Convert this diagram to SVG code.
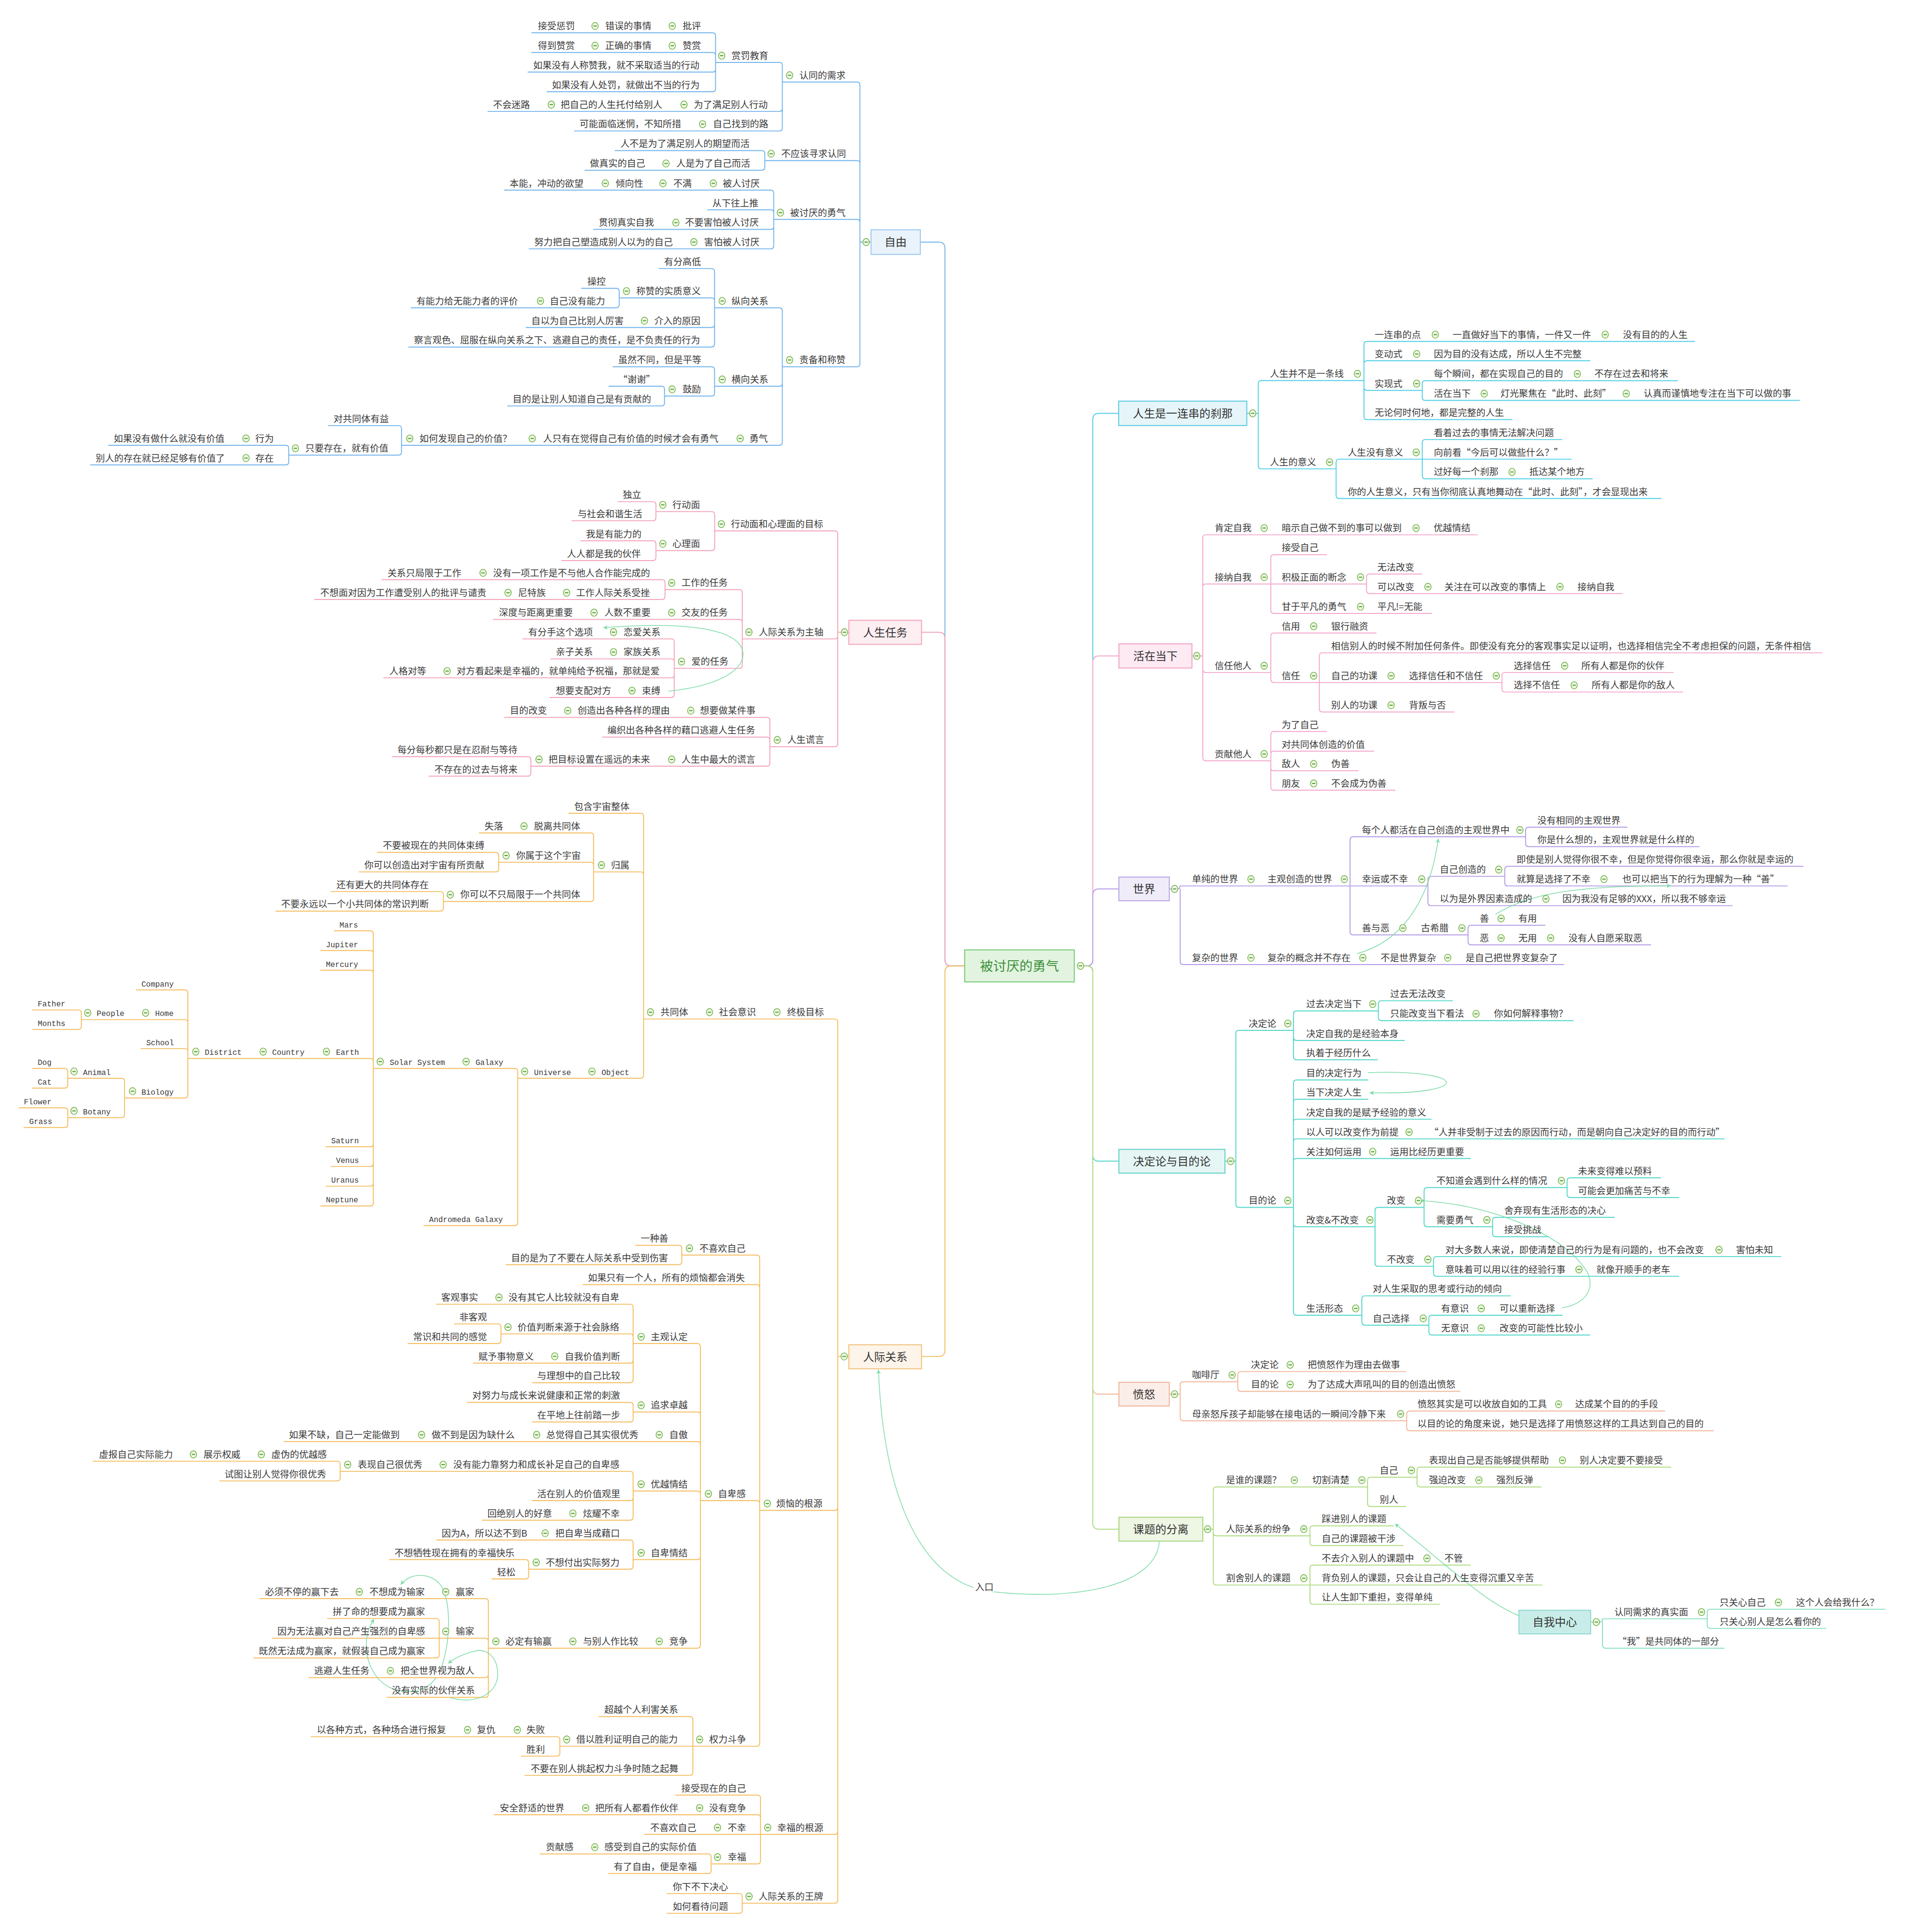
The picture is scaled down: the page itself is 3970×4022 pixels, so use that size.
<svg xmlns="http://www.w3.org/2000/svg" xmlns:xlink="http://www.w3.org/1999/xlink" width="3970" height="4022" viewBox="0 0 3970 4022">
<style>
text{font-family:"Noto Sans CJK SC","Noto Sans",sans-serif;font-size:7.5px;fill:#3a3a3a}
.e{font-family:"Liberation Mono",monospace;font-size:6.24px}
.t{font-size:9px;text-anchor:middle;fill:#333}
.ct{font-size:10.7px;text-anchor:middle;fill:#3d8f3d}
.b{stroke:#72b4ec}.p{stroke:#f4a3b8}.o{stroke:#f5bd5e}.c{stroke:#4fcfe6}.k{stroke:#f4a6cc}.v{stroke:#b39ae6}.g{stroke:#4fd6c8}.s{stroke:#f2b596}.l{stroke:#addb80}.z{stroke:#86dec6}
.rel{stroke:#7bdba6;stroke-width:.6}
</style>
<defs>
<g id="m"><ellipse rx="2.6" ry="2.9" fill="#eef8e6" stroke="#6aac3a" stroke-width=".55"/><path d="M-1.4,0H1.4" stroke="#4a9a22" stroke-width=".75"/></g>
<marker id="ar" viewBox="0 0 10 10" refX="9" refY="5" markerWidth="3.6" markerHeight="3.6" markerUnits="userSpaceOnUse" orient="auto"><path d="M0,0L10,5L0,10L3,5z" fill="#7bdba6"/></marker>
</defs>
<rect width="3970" height="4022" fill="#fff"/>
<g transform="scale(2.5648)">
<g id="connectors" fill="none" stroke-width=".75" stroke-linecap="round">
<path class="b" d="M783,784H772Q767,784 767,779V201.5Q767,196.5 762,196.5H747"/>
<path class="p" d="M783,784H772Q767,784 767,779V518.2Q767,513.2 762,513.2H748"/>
<path class="o" d="M783,784H772Q767,784 767,789V1096Q767,1101 762,1101H748"/>
<path class="c" d="M880,784H882Q887,784 887,779V340.5Q887,335.5 892,335.5H908"/>
<path class="k" d="M880,784H882Q887,784 887,779V537.4Q887,532.4 892,532.4H908"/>
<path class="v" d="M880,784H882Q887,784 887,779V726.5Q887,721.5 892,721.5H908"/>
<path class="g" d="M880,784H882Q887,784 887,789V937.5Q887,942.5 892,942.5H908"/>
<path class="s" d="M880,784H882Q887,784 887,789V1126.6Q887,1131.6 892,1131.6H908"/>
<path class="l" d="M880,784H882Q887,784 887,789V1236.2Q887,1241.2 892,1241.2H908"/>
<path class="b" d="M707,196.5H698M698,196.5V69.1Q698,66.6 695.5,66.6H635M698,196.5V132.8Q698,130.3 695.5,130.3H620.8M698,196.5V180.6Q698,178.1 695.5,178.1H628M698,196.5V295.2Q698,297.7 695.5,297.7H635
M635,66.6V53.2Q635,50.7 632.5,50.7H580.8M635,66.6V87.9Q635,90.4 632.5,90.4H396M635,66.6V103.8Q635,106.3 632.5,106.3H466.3
M580.8,50.7V29.1Q580.8,26.6 578.3,26.6H431.6M580.8,50.7V45.1Q580.8,42.6 578.3,42.6H431.6M580.8,50.7V56Q580.8,58.5 578.3,58.5H428.6M580.8,50.7V72Q580.8,74.5 578.3,74.5H444
M620.8,130.3V124.7Q620.8,122.2 618.3,122.2H499.3M620.8,130.3V135.7Q620.8,138.2 618.3,138.2H474.8
M628,178.1V156.8Q628,154.3 625.5,154.3H409.4M628,178.1V172.8Q628,170.3 625.5,170.3H574.5M628,178.1V183.7Q628,186.2 625.5,186.2H481.9M628,178.1V199.5Q628,202 625.5,202H429.5
M635,297.7V252.3Q635,249.8 632.5,249.8H580M635,297.7V311Q635,313.5 632.5,313.5H580M635,297.7V358.9Q635,361.4 632.5,361.4H325.9
M580,249.8V220.5Q580,218 577.5,218H535M580,249.8V244.3Q580,241.8 577.5,241.8H502.6M580,249.8V263.3Q580,265.8 577.5,265.8H427M580,249.8V279.2Q580,281.7 577.5,281.7H331.8
M502.6,241.8V236.5Q502.6,234 500.1,234H472M502.6,241.8V247.3Q502.6,249.8 500.1,249.8H333.8
M580,313.5V300.2Q580,297.7 577.5,297.7H497.6M580,313.5V319Q580,321.5 577.5,321.5H539.4
M539.4,321.5V316Q539.4,313.5 536.9,313.5H494.3M539.4,321.5V327Q539.4,329.5 536.9,329.5H412
M325.9,361.4V348Q325.9,345.5 323.4,345.5H266.5M325.9,361.4V366.9Q325.9,369.4 323.4,369.4H234.4
M234.4,369.4V363.9Q234.4,361.4 231.9,361.4H88.2M234.4,369.4V374.8Q234.4,377.3 231.9,377.3H73.5"/>
<path class="p" d="M689,513.2H680M680,513.2V433.4Q680,430.9 677.5,430.9H580.1M680,513.2V516.1Q680,518.6 677.5,518.6H602.5M680,513.2V603.6Q680,606.1 677.5,606.1H624.9
M580.1,430.9V417.8Q580.1,415.3 577.6,415.3H532.4M580.1,430.9V444.4Q580.1,446.9 577.6,446.9H532.4
M532.4,415.3V409.7Q532.4,407.2 529.9,407.2H501.6M532.4,415.3V420.2Q532.4,422.7 529.9,422.7H464.3
M532.4,446.9V441.4Q532.4,438.9 529.9,438.9H471.5M532.4,446.9V452.5Q532.4,455 529.9,455H456
M602.5,518.6V481.1Q602.5,478.6 600,478.6H539.8M602.5,518.6V505.3Q602.5,502.8 600,502.8H400.4M602.5,518.6V540Q602.5,542.5 600,542.5H547.3
M539.8,478.6V473Q539.8,470.5 537.3,470.5H310M539.8,478.6V484.1Q539.8,486.6 537.3,486.6H255.4
M547.3,542.5V521.1Q547.3,518.6 544.8,518.6H424.3M547.3,542.5V537.3Q547.3,534.8 544.8,534.8H447M547.3,542.5V547.7Q547.3,550.2 544.8,550.2H311.5M547.3,542.5V563.6Q547.3,566.1 544.8,566.1H446.4
M624.9,606.1V584.8Q624.9,582.3 622.4,582.3H409.4M624.9,606.1V600.8Q624.9,598.3 622.4,598.3H489M624.9,606.1V619.4Q624.9,621.9 622.4,621.9H430.9
M430.9,621.9V616.7Q430.9,614.2 428.4,614.2H318.4M430.9,621.9V627.5Q430.9,630 428.4,630H348.2"/>
<path class="o" d="M522.4,827.1V662.6Q522.4,660.1 519.9,660.1H461.7M522.4,827.1V710.2Q522.4,707.7 519.9,707.7H481.8M522.4,827.1V872.7Q522.4,875.2 519.9,875.2H420.2
M481.8,707.7V678.6Q481.8,676.1 479.3,676.1H389M481.8,707.7V702.4Q481.8,699.9 479.3,699.9H404.8M481.8,707.7V729.2Q481.8,731.7 479.3,731.7H359.9
M404.8,699.9V694.4Q404.8,691.9 402.3,691.9H306.4M404.8,699.9V705.2Q404.8,707.7 402.3,707.7H291.5
M359.9,731.7V726.2Q359.9,723.7 357.4,723.7H268.8M359.9,731.7V737Q359.9,739.5 357.4,739.5H223.9
M420.2,875.2V869.7Q420.2,867.2 417.7,867.2H303M420.2,875.2V992.3Q420.2,994.8 417.7,994.8H344.1
M303,867.2V758Q303,755.5 300.5,755.5H271.4M303,867.2V774Q303,771.5 300.5,771.5H260.3M303,867.2V790Q303,787.5 300.5,787.5H260.3M303,867.2V861.6Q303,859.1 300.5,859.1H152.5M303,867.2V928.3Q303,930.8 300.5,930.8H264.6M303,867.2V944.3Q303,946.8 300.5,946.8H268.5M303,867.2V960.3Q303,962.8 300.5,962.8H264.6M303,867.2V976.3Q303,978.8 300.5,978.8H260.3
M152.5,859.1V806Q152.5,803.5 150,803.5H110.6M152.5,859.1V830.1Q152.5,827.6 150,827.6H66M152.5,859.1V853.6Q152.5,851.1 150,851.1H114.5M152.5,859.1V888.7Q152.5,891.2 150,891.2H101.1
M66,827.6V822.3Q66,819.8 63.5,819.8H26.3M66,827.6V833.1Q66,835.6 63.5,835.6H26.3
M101.1,891.2V877.7Q101.1,875.2 98.6,875.2H55M101.1,891.2V904.7Q101.1,907.2 98.6,907.2H55
M55,875.2V869.7Q55,867.2 52.5,867.2H26.3M55,875.2V880.7Q55,883.2 52.5,883.2H26.3
M55,907.2V901.7Q55,899.2 52.5,899.2H15.6M55,907.2V912.7Q55,915.2 52.5,915.2H19.5
M689,1101H680M680,1101V829.6Q680,827.1 677.5,827.1H522.4M680,1101V1223.4Q680,1225.9 677.5,1225.9H616.6M680,1101V1486.4Q680,1488.9 677.5,1488.9H617.3M680,1101V1542.3Q680,1544.8 677.5,1544.8H602.5
M616.6,1225.9V1021.2Q616.6,1018.7 614.1,1018.7H553.4M616.6,1225.9V1045.2Q616.6,1042.7 614.1,1042.7H473.1M616.6,1225.9V1220.5Q616.6,1218 614.1,1218H568.5M616.6,1225.9V1414.9Q616.6,1417.4 614.1,1417.4H562.4
M553.4,1018.7V1013.3Q553.4,1010.8 550.9,1010.8H515.9M553.4,1018.7V1024Q553.4,1026.5 550.9,1026.5H410.7
M568.5,1218V1093Q568.5,1090.5 566,1090.5H513.9M568.5,1218V1148.6Q568.5,1146.1 566,1146.1H513.9M568.5,1218V1172.6Q568.5,1170.1 566,1170.1H230.5M568.5,1218V1212.7Q568.5,1210.2 566,1210.2H513.9M568.5,1218V1263.4Q568.5,1265.9 566,1265.9H513.9M568.5,1218V1335.3Q568.5,1337.8 566,1337.8H396.4
M513.9,1090.5V1061.1Q513.9,1058.6 511.4,1058.6H354M513.9,1090.5V1085.2Q513.9,1082.7 511.4,1082.7H406.6M513.9,1090.5V1103.9Q513.9,1106.4 511.4,1106.4H384.2M513.9,1090.5V1119.8Q513.9,1122.3 511.4,1122.3H432
M406.6,1082.7V1077.1Q406.6,1074.6 404.1,1074.6H368.7M406.6,1082.7V1088Q406.6,1090.5 404.1,1090.5H331.2
M513.9,1146.1V1140.8Q513.9,1138.3 511.4,1138.3H379.3M513.9,1146.1V1151.7Q513.9,1154.2 511.4,1154.2H432
M513.9,1210.2V1196.8Q513.9,1194.3 511.4,1194.3H276.1M513.9,1210.2V1215.5Q513.9,1218 511.4,1218H432M513.9,1210.2V1231.4Q513.9,1233.9 511.4,1233.9H391.5
M276.1,1194.3V1188.5Q276.1,1186 273.6,1186H75.5M276.1,1194.3V1199.5Q276.1,1202 273.6,1202H178.3
M513.9,1265.9V1252.5Q513.9,1250 511.4,1250H354.4M513.9,1265.9V1271.2Q513.9,1273.7 511.4,1273.7H429.1
M429.1,1273.7V1268.4Q429.1,1265.9 426.6,1265.9H316.1M429.1,1273.7V1279.1Q429.1,1281.6 426.6,1281.6H399.3
M396.4,1337.8V1300.1Q396.4,1297.6 393.9,1297.6H210.9M396.4,1337.8V1332.2Q396.4,1329.7 393.9,1329.7H356.5M396.4,1337.8V1359.2Q396.4,1361.7 393.9,1361.7H250.8M396.4,1337.8V1375.2Q396.4,1377.7 393.9,1377.7H314
M356.5,1329.7V1316.2Q356.5,1313.7 354,1313.7H265.9M356.5,1329.7H221.1M356.5,1329.7V1343.2Q356.5,1345.7 354,1345.7H206
M562.4,1417.4V1395.8Q562.4,1393.3 559.9,1393.3H486.2M562.4,1417.4H454.4M562.4,1417.4V1438.5Q562.4,1441 559.9,1441H426.1
M454.4,1417.4V1412.1Q454.4,1409.6 451.9,1409.6H252.5M454.4,1417.4V1422.9Q454.4,1425.4 451.9,1425.4H423
M617.3,1488.9V1459.5Q617.3,1457 614.8,1457H548.5M617.3,1488.9V1475.5Q617.3,1473 614.8,1473H401.1M617.3,1488.9H523.2M617.3,1488.9V1510.4Q617.3,1512.9 614.8,1512.9H577.2
M577.2,1512.9V1507.3Q577.2,1504.8 574.7,1504.8H438.4M577.2,1512.9V1518.2Q577.2,1520.7 574.7,1520.7H494
M602.5,1544.8V1539.5Q602.5,1537 600,1537H541.4M602.5,1544.8V1550.5Q602.5,1553 600,1553H541.4"/>
<path class="c" d="M1012,335.5H1021.3M1021.3,335.5V311.4Q1021.3,308.9 1023.8,308.9H1107.1M1021.3,335.5V378.1Q1021.3,380.6 1023.8,380.6H1084.5
M1107.1,308.9V279.6Q1107.1,277.1 1109.6,277.1H1375.5M1107.1,308.9V295.3Q1107.1,292.8 1109.6,292.8H1290.5M1107.1,308.9V314.4Q1107.1,316.9 1109.6,316.9H1154.4M1107.1,308.9V338.1Q1107.1,340.6 1109.6,340.6H1227.3
M1154.4,316.9V311.5Q1154.4,309 1156.9,309H1361.5M1154.4,316.9V322.5Q1154.4,325 1156.9,325H1460.6
M1084.5,380.6V375.2Q1084.5,372.7 1087,372.7H1154.4M1084.5,380.6V402.1Q1084.5,404.6 1087,404.6H1348.3
M1154.4,372.7V359.3Q1154.4,356.8 1156.9,356.8H1267.8M1154.4,372.7H1275.3M1154.4,372.7V386.1Q1154.4,388.6 1156.9,388.6H1292.4"/>
<path class="k" d="M967.5,532.4H976.3M976.3,532.4V436.6Q976.3,434.1 978.8,434.1H1199.2M976.3,532.4V476.5Q976.3,474 978.8,474H1031.5M976.3,532.4V543.4Q976.3,545.9 978.8,545.9H1031.5M976.3,532.4V615Q976.3,617.5 978.8,617.5H1031.5
M1031.5,474V452.7Q1031.5,450.2 1034,450.2H1076.7M1031.5,474H1109.2M1031.5,474V495.4Q1031.5,497.9 1034,497.9H1162
M1109.2,474V468.4Q1109.2,465.9 1111.7,465.9H1154M1109.2,474V479.3Q1109.2,481.8 1111.7,481.8H1316.8
M1031.5,545.9V516.3Q1031.5,513.8 1034,513.8H1116.9M1031.5,545.9V551.5Q1031.5,554 1034,554H1070.9
M1070.9,554V532.4Q1070.9,529.9 1073.4,529.9H1478.8M1070.9,554H1219.1M1070.9,554V575.4Q1070.9,577.9 1073.4,577.9H1180
M1219.1,554V548.4Q1219.1,545.9 1221.6,545.9H1358.2M1219.1,554V559.2Q1219.1,561.7 1221.6,561.7H1365.8
M1031.5,617.5V596.2Q1031.5,593.7 1034,593.7H1076.7M1031.5,617.5V612.2Q1031.5,609.7 1034,609.7H1115M1031.5,617.5V623.1Q1031.5,625.6 1034,625.6H1102.3M1031.5,617.5V638.9Q1031.5,641.4 1034,641.4H1132.2"/>
<path class="v" d="M949.1,721.5H955Q957.9,721.5 957.9,719.1H1095.8M957.9,721.5V780.4Q957.9,782.9 960.4,782.9H1269.3
M1095.8,719.1V681.7Q1095.8,679.2 1098.3,679.2H1238.3M1095.8,719.1H1159M1095.8,719.1V756.3Q1095.8,758.8 1098.3,758.8H1191.6
M1238.3,679.2V673.9Q1238.3,671.4 1240.8,671.4H1320.6M1238.3,679.2V684.7Q1238.3,687.2 1240.8,687.2H1379.2
M1159,719.1V713.8Q1159,711.3 1161.5,711.3H1221.4M1159,719.1V732.6Q1159,735.1 1161.5,735.1H1406
M1221.4,711.3V705.7Q1221.4,703.2 1223.9,703.2H1463.5M1221.4,711.3V716.6Q1221.4,719.1 1223.9,719.1H1450.8
M1191.6,758.8V753.5Q1191.6,751 1194.1,751H1254M1191.6,758.8V764.4Q1191.6,766.9 1194.1,766.9H1339.8"/>
<path class="g" d="M994.3,942.5H1003.1M1003.1,942.5V838.8Q1003.1,836.3 1005.6,836.3H1049.9M1003.1,942.5V977.5Q1003.1,980 1005.6,980H1049.9
M1049.9,836.3V823Q1049.9,820.5 1052.4,820.5H1118.8M1049.9,836.3V842Q1049.9,844.5 1052.4,844.5H1139.9M1049.9,836.3V857.7Q1049.9,860.2 1052.4,860.2H1118
M1118.8,820.5V814.8Q1118.8,812.3 1121.3,812.3H1178.9M1118.8,820.5V825.9Q1118.8,828.4 1121.3,828.4H1277
M1049.9,980V879.1Q1049.9,876.6 1052.4,876.6H1110.4M1049.9,980V894.8Q1049.9,892.3 1052.4,892.3H1110.4M1049.9,980V910.9Q1049.9,908.4 1052.4,908.4H1161.7M1049.9,980V926.9Q1049.9,924.4 1052.4,924.4H1399.5M1049.9,980V942.8Q1049.9,940.3 1052.4,940.3H1193.5M1049.9,980V993.2Q1049.9,995.7 1052.4,995.7H1116.1M1049.9,980V1065Q1049.9,1067.5 1052.4,1067.5H1105.4
M1116.1,995.7V982.5Q1116.1,980 1118.6,980H1155.9M1116.1,995.7V1025.3Q1116.1,1027.8 1118.6,1027.8H1163.6
M1155.9,980V966.4Q1155.9,963.9 1158.4,963.9H1272M1155.9,980V993.2Q1155.9,995.7 1158.4,995.7H1211.5
M1272,963.9V958.5Q1272,956 1274.5,956H1347.8M1272,963.9V969.5Q1272,972 1274.5,972H1362.7
M1211.5,995.7V990.6Q1211.5,988.1 1214,988.1H1310.3M1211.5,995.7V1001.3Q1211.5,1003.8 1214,1003.8H1256.9
M1163.6,1027.8V1022.4Q1163.6,1019.9 1166.1,1019.9H1445.5M1163.6,1027.8V1033.4Q1163.6,1035.9 1166.1,1035.9H1362.7
M1105.4,1067.5V1054.3Q1105.4,1051.8 1107.9,1051.8H1226M1105.4,1067.5V1073.1Q1105.4,1075.6 1107.9,1075.6H1159.8
M1159.8,1075.6V1070Q1159.8,1067.5 1162.3,1067.5H1268.1M1159.8,1075.6V1081.1Q1159.8,1083.6 1162.3,1083.6H1290.4"/>
<path class="s" d="M949.1,1131.6H957.9M957.9,1131.6V1124Q957.9,1121.5 960.4,1121.5H1004.7M957.9,1131.6V1150.7Q957.9,1153.2 960.4,1153.2H1141.8
M1004.7,1121.5V1115.8Q1004.7,1113.3 1007.2,1113.3H1141M1004.7,1121.5V1126.8Q1004.7,1129.3 1007.2,1129.3H1185
M1141.8,1153.2V1147.8Q1141.8,1145.3 1144.3,1145.3H1351.3M1141.8,1153.2V1158.8Q1141.8,1161.3 1144.3,1161.3H1390.7"/>
<path class="l" d="M976.3,1241.2H984.8M984.8,1241.2V1209.4Q984.8,1206.9 987.3,1206.9H1110M984.8,1241.2V1244.1Q984.8,1246.6 987.3,1246.6H1063.3M984.8,1241.2V1284Q984.8,1286.5 987.3,1286.5H1063.3
M1110,1206.9V1201.5Q1110,1199 1112.5,1199H1150.2M1110,1206.9V1220.3Q1110,1222.8 1112.5,1222.8H1141
M1150.2,1199V1193.3Q1150.2,1190.8 1152.7,1190.8H1356.2M1150.2,1199V1204.4Q1150.2,1206.9 1152.7,1206.9H1250.9
M1063.3,1246.6V1241Q1063.3,1238.5 1065.8,1238.5H1131M1063.3,1246.6V1252Q1063.3,1254.5 1065.8,1254.5H1138.7
M1063.3,1286.5V1272.9Q1063.3,1270.4 1065.8,1270.4H1193.5M1063.3,1286.5H1251.7M1063.3,1286.5V1299.6Q1063.3,1302.1 1065.8,1302.1H1168.6"/>
<path class="z" d="M1291.1,1316.6H1298Q1300.7,1316.6 1300.7,1314H1385.7M1300.7,1316.6V1335.3Q1300.7,1337.8 1303.2,1337.8H1399.5
M1385.7,1314V1308.7Q1385.7,1306.2 1388.2,1306.2H1530M1385.7,1314V1319.2Q1385.7,1321.7 1388.2,1321.7H1482"/>
<g class="rel" marker-end="url(#ar)">
<path d="M542.8,561C590,556 608,540 602,526C594,508 545,505 490,509.5"/>
<path d="M366,1378C385,1384 404,1375 404,1359C404,1345 395,1338 386,1340C378,1342 370,1345 364,1350"/>
<path d="M358.5,1353C366,1330 366,1300 358,1287C350,1276 333,1276 325.5,1286"/>
<path d="M353.6,1362C345,1376 318,1378 305,1360C294,1344 296,1325 303.5,1314.5"/>
<path d="M1101.6,774C1135,765 1160,735 1167.4,681"/>
<path d="M1214,742C1240,726 1275,719 1356,719"/>
<path d="M1110.4,870.6C1195,868 1195,889 1112,887"/>
<path d="M1268,1061.5C1290,1058 1296,1042 1286,1029C1265,1000 1210,978 1153.5,974.5"/>
<path d="M1233,1311.5C1205,1300 1180,1275 1132.5,1237"/>
<path d="M941,1251C939,1285 880,1300 806,1292C755,1287 718,1230 713,1112"/>
</g>
</g>
<g id="label-entry"><rect x="790" y="1283" width="17" height="9" fill="#fff"/><text x="791.5" y="1291">入口</text></g>
<g id="center"><rect x="783" y="771" width="89" height="26" fill="#e2f4df" stroke="#78c878" stroke-width=".8"/><text class="ct" x="827.5" y="787.9">被讨厌的勇气</text><use href="#m" x="877" y="784"/></g>
<g id="f0"><rect x="707" y="186.5" width="40" height="20" fill="#eaf3fc" stroke="#9cc8ee" stroke-width=".8"/><text class="t" x="727" y="199.8">自由</text><use href="#m" x="703" y="196.5"/></g>
<g id="f1"><text x="436.6" y="23.8">接受惩罚</text></g>
<g id="f2"><use href="#m" x="483" y="21.1"/><text x="491.3" y="23.8">错误的事情</text></g>
<g id="f3"><use href="#m" x="545.6" y="21.1"/><text x="554" y="23.8">批评</text></g>
<g id="f4"><text x="436.6" y="39.8">得到赞赏</text></g>
<g id="f5"><use href="#m" x="483" y="37.1"/><text x="491.3" y="39.8">正确的事情</text></g>
<g id="f6"><use href="#m" x="545.6" y="37.1"/><text x="554" y="39.8">赞赏</text></g>
<g id="f7"><text x="432.8" y="55.7">如果没有人称赞我，就不采取适当的行动</text></g>
<g id="f8"><text x="448" y="71.7">如果没有人处罚，就做出不当的行为</text></g>
<g id="f9"><use href="#m" x="585.8" y="45.2"/><text x="593.7" y="47.9">赏罚教育</text></g>
<g id="f10"><use href="#m" x="640.9" y="61.1"/><text x="648.8" y="63.8">认同的需求</text></g>
<g id="f11"><text x="400.2" y="87.6">不会迷路</text></g>
<g id="f12"><use href="#m" x="447.5" y="84.9"/><text x="455" y="87.6">把自己的人生托付给别人</text></g>
<g id="f13"><use href="#m" x="555.2" y="84.9"/><text x="563.2" y="87.6">为了满足别人行动</text></g>
<g id="f14"><text x="470.4" y="103.5">可能面临迷惘，不知所措</text></g>
<g id="f15"><use href="#m" x="570.3" y="100.8"/><text x="578.7" y="103.5">自己找到的路</text></g>
<g id="f16"><text x="503.5" y="119.4">人不是为了满足别人的期望而活</text></g>
<g id="f17"><use href="#m" x="625.9" y="124.8"/><text x="634.2" y="127.5">不应该寻求认同</text></g>
<g id="f18"><text x="478.8" y="135.4">做真实的自己</text></g>
<g id="f19"><use href="#m" x="540.6" y="132.7"/><text x="549" y="135.4">人是为了自己而活</text></g>
<g id="f20"><text x="413.6" y="151.5">本能，冲动的欲望</text></g>
<g id="f21"><use href="#m" x="491.3" y="148.8"/><text x="499.7" y="151.5">倾向性</text></g>
<g id="f22"><use href="#m" x="538.1" y="148.8"/><text x="546.5" y="151.5">不满</text></g>
<g id="f23"><use href="#m" x="579" y="148.8"/><text x="586.6" y="151.5">被人讨厌</text></g>
<g id="f24"><text x="578.2" y="167.5">从下往上推</text></g>
<g id="f25"><use href="#m" x="633.4" y="172.6"/><text x="641.3" y="175.3">被讨厌的勇气</text></g>
<g id="f26"><text x="485.9" y="183.4">贯彻真实自我</text></g>
<g id="f27"><use href="#m" x="548.6" y="180.7"/><text x="556" y="183.4">不要害怕被人讨厌</text></g>
<g id="f28"><text x="433.7" y="199.2">努力把自己塑造成别人以为的自己</text></g>
<g id="f29"><use href="#m" x="563.2" y="196.5"/><text x="571.5" y="199.2">害怕被人讨厌</text></g>
<g id="f30"><text x="539" y="215.2">有分高低</text></g>
<g id="f31"><text x="476.7" y="231.2">操控</text></g>
<g id="f32"><use href="#m" x="508.5" y="236.3"/><text x="516.4" y="239">称赞的实质意义</text></g>
<g id="f33"><text x="338" y="247">有能力给无能力者的评价</text></g>
<g id="f34"><use href="#m" x="438.7" y="244.3"/><text x="446.2" y="247">自己没有能力</text></g>
<g id="f35"><use href="#m" x="586.2" y="244.3"/><text x="593.7" y="247">纵向关系</text></g>
<g id="f36"><text x="431.2" y="263">自以为自己比别人厉害</text></g>
<g id="f37"><use href="#m" x="523.1" y="260.3"/><text x="531" y="263">介入的原因</text></g>
<g id="f38"><text x="336" y="278.9">察言观色、屈服在纵向关系之下、逃避自己的责任，是不负责任的行为</text></g>
<g id="f39"><text x="501.8" y="294.9">虽然不同，但是平等</text></g>
<g id="f40"><use href="#m" x="640.9" y="292.2"/><text x="648.8" y="294.9">责备和称赞</text></g>
<g id="f41"><text x="501.8" y="310.7">“谢谢”</text></g>
<g id="f42"><use href="#m" x="586.2" y="308"/><text x="593.7" y="310.7">横向关系</text></g>
<g id="f43"><use href="#m" x="545.6" y="316"/><text x="554" y="318.7">鼓励</text></g>
<g id="f44"><text x="416.1" y="326.7">目的是让别人知道自己是有贡献的</text></g>
<g id="f45"><text x="270.7" y="342.7">对共同体有益</text></g>
<g id="f46"><use href="#m" x="332.6" y="355.9"/><text x="340.5" y="358.6">如何发现自己的价值？</text></g>
<g id="f47"><use href="#m" x="432" y="355.9"/><text x="440.8" y="358.6">人只有在觉得自己有价值的时候才会有勇气</text></g>
<g id="f48"><use href="#m" x="600.8" y="355.9"/><text x="608.3" y="358.6">勇气</text></g>
<g id="f49"><use href="#m" x="239.8" y="363.9"/><text x="247.8" y="366.6">只要存在，就有价值</text></g>
<g id="f50"><text x="92.3" y="358.6">如果没有做什么就没有价值</text></g>
<g id="f51"><use href="#m" x="199.7" y="355.9"/><text x="207.2" y="358.6">行为</text></g>
<g id="f52"><text x="77.7" y="374.5">别人的存在就已经足够有价值了</text></g>
<g id="f53"><use href="#m" x="199.7" y="371.8"/><text x="207.2" y="374.5">存在</text></g>
<g id="r0"><rect x="689" y="503.5" width="59" height="19.5" fill="#fdeef2" stroke="#f5a6bb" stroke-width=".8"/><text class="t" x="718.5" y="516.5">人生任务</text><use href="#m" x="685.4" y="513.2"/></g>
<g id="r1"><text x="505.5" y="404.4">独立</text></g>
<g id="r2"><use href="#m" x="538" y="409.8"/><text x="545.8" y="412.5">行动面</text></g>
<g id="r3"><text x="468.8" y="419.9">与社会和谐生活</text></g>
<g id="r4"><use href="#m" x="585.5" y="425.4"/><text x="593.2" y="428.1">行动面和心理面的目标</text></g>
<g id="r5"><text x="475.7" y="436.1">我是有能力的</text></g>
<g id="r6"><use href="#m" x="538" y="441.4"/><text x="545.8" y="444.1">心理面</text></g>
<g id="r7"><text x="460.2" y="452.2">人人都是我的伙伴</text></g>
<g id="r8"><text x="314.5" y="467.7">关系只局限于工作</text></g>
<g id="r9"><use href="#m" x="392.1" y="465"/><text x="400.2" y="467.7">没有一项工作是不与他人合作能完成的</text></g>
<g id="r10"><use href="#m" x="545.2" y="473.1"/><text x="553.2" y="475.8">工作的任务</text></g>
<g id="r11"><text x="259.9" y="483.8">不想面对因为工作遭受别人的批评与谴责</text></g>
<g id="r12"><use href="#m" x="412.4" y="481.1"/><text x="420.5" y="483.8">尼特族</text></g>
<g id="r13"><use href="#m" x="459.9" y="481.1"/><text x="467.6" y="483.8">工作人际关系受挫</text></g>
<g id="r14"><text x="405" y="500">深度与距离更重要</text></g>
<g id="r15"><use href="#m" x="482.2" y="497.3"/><text x="490.6" y="500">人数不重要</text></g>
<g id="r16"><use href="#m" x="545.2" y="497.3"/><text x="553.2" y="500">交友的任务</text></g>
<g id="r17"><use href="#m" x="607.9" y="513.1"/><text x="615.9" y="515.8">人际关系为主轴</text></g>
<g id="r18"><text x="428.8" y="515.8">有分手这个选项</text></g>
<g id="r19"><use href="#m" x="498" y="513.1"/><text x="506.1" y="515.8">恋爱关系</text></g>
<g id="r20"><text x="451.2" y="532">亲子关系</text></g>
<g id="r21"><use href="#m" x="498" y="529.3"/><text x="506.1" y="532">家族关系</text></g>
<g id="r22"><use href="#m" x="553.2" y="537"/><text x="561.3" y="539.7">爱的任务</text></g>
<g id="r23"><text x="316" y="547.4">人格对等</text></g>
<g id="r24"><use href="#m" x="362.9" y="544.7"/><text x="370.6" y="547.4">对方看起来是幸福的，就单纯给予祝福，那就是爱</text></g>
<g id="r25"><text x="451.2" y="563.3">想要支配对方</text></g>
<g id="r26"><use href="#m" x="513" y="560.6"/><text x="521" y="563.3">束缚</text></g>
<g id="r27"><text x="413.9" y="579.5">目的改变</text></g>
<g id="r28"><use href="#m" x="460.8" y="576.8"/><text x="468.8" y="579.5">创造出各种各样的理由</text></g>
<g id="r29"><use href="#m" x="560.7" y="576.8"/><text x="568.2" y="579.5">想要做某件事</text></g>
<g id="r30"><text x="493" y="595.5">编织出各种各样的藉口逃避人生任务</text></g>
<g id="r31"><use href="#m" x="630.9" y="600.6"/><text x="639" y="603.3">人生谎言</text></g>
<g id="r32"><text x="322.6" y="611.4">每分每秒都只是在忍耐与等待</text></g>
<g id="r33"><use href="#m" x="437.5" y="616.4"/><text x="445.2" y="619.1">把目标设置在遥远的未来</text></g>
<g id="r34"><use href="#m" x="545.2" y="616.4"/><text x="553.2" y="619.1">人生中最大的谎言</text></g>
<g id="r35"><text x="352.7" y="627.2">不存在的过去与将来</text></g>
<g id="c1"><text x="466" y="657.3">包含宇宙整体</text></g>
<g id="c2"><text x="393.3" y="673.3">失落</text></g>
<g id="c3"><use href="#m" x="425.3" y="670.6"/><text x="433.5" y="673.3">脱离共同体</text></g>
<g id="c4"><text x="310.7" y="689.1">不要被现在的共同体束缚</text></g>
<g id="c5"><use href="#m" x="410.8" y="694.4"/><text x="418.9" y="697.1">你属于这个宇宙</text></g>
<g id="c6"><text x="295.7" y="704.9">你可以创造出对宇宙有所贡献</text></g>
<g id="c7"><use href="#m" x="488.2" y="702.2"/><text x="495.9" y="704.9">归属</text></g>
<g id="c8"><text x="273.1" y="720.9">还有更大的共同体存在</text></g>
<g id="c9"><use href="#m" x="365.5" y="726.2"/><text x="373.6" y="728.9">你可以不只局限于一个共同体</text></g>
<g id="c10"><text x="228.2" y="736.7">不要永远以一个小共同体的常识判断</text></g>
<g id="c11"><use href="#m" x="528" y="821.6"/><text x="536.1" y="824.3">共同体</text></g>
<g id="c12"><use href="#m" x="575.9" y="821.6"/><text x="583.6" y="824.3">社会意识</text></g>
<g id="c13"><use href="#m" x="630.6" y="821.6"/><text x="638.8" y="824.3">终极目标</text></g>
<g id="c14"><use href="#m" x="425.8" y="869.7"/><text class="e" x="433.5" y="872.4">Universe</text></g>
<g id="c15"><use href="#m" x="480.5" y="869.7"/><text class="e" x="488.2" y="872.4">Object</text></g>
<g id="c16"><use href="#m" x="308.6" y="861.7"/><text class="e" x="316.3" y="864.4">Solar System</text></g>
<g id="c17"><use href="#m" x="378.3" y="861.7"/><text class="e" x="386" y="864.4">Galaxy</text></g>
<g id="c18"><text class="e" x="348.3" y="992">Andromeda Galaxy</text></g>
<g id="c19"><use href="#m" x="158.9" y="853.6"/><text class="e" x="166.2" y="856.3">District</text></g>
<g id="c20"><use href="#m" x="213.6" y="853.6"/><text class="e" x="220.9" y="856.3">Country</text></g>
<g id="c21"><use href="#m" x="265" y="853.6"/><text class="e" x="272.7" y="856.3">Earth</text></g>
<g id="c22"><text class="e" x="275.6" y="752.7">Mars</text></g>
<g id="c23"><text class="e" x="264.5" y="768.7">Jupiter</text></g>
<g id="c24"><text class="e" x="264.5" y="784.7">Mercury</text></g>
<g id="c25"><text class="e" x="268.8" y="928">Saturn</text></g>
<g id="c26"><text class="e" x="272.7" y="944">Venus</text></g>
<g id="c27"><text class="e" x="268.8" y="960">Uranus</text></g>
<g id="c28"><text class="e" x="264.5" y="976">Neptune</text></g>
<g id="c29"><text class="e" x="114.8" y="800.7">Company</text></g>
<g id="c30"><use href="#m" x="71.2" y="822.1"/><text class="e" x="78.5" y="824.8">People</text></g>
<g id="c31"><use href="#m" x="118.2" y="822.1"/><text class="e" x="125.9" y="824.8">Home</text></g>
<g id="c32"><text class="e" x="30.6" y="817">Father</text></g>
<g id="c33"><text class="e" x="30.6" y="832.8">Months</text></g>
<g id="c34"><text class="e" x="118.7" y="848.3">School</text></g>
<g id="c35"><use href="#m" x="107.6" y="885.7"/><text class="e" x="114.8" y="888.4">Biology</text></g>
<g id="c36"><use href="#m" x="60.1" y="869.7"/><text class="e" x="67.4" y="872.4">Animal</text></g>
<g id="c37"><use href="#m" x="60.1" y="901.7"/><text class="e" x="67.4" y="904.4">Botany</text></g>
<g id="c38"><text class="e" x="30.6" y="864.4">Dog</text></g>
<g id="c39"><text class="e" x="30.6" y="880.4">Cat</text></g>
<g id="c40"><text class="e" x="19.4" y="896.4">Flower</text></g>
<g id="c41"><text class="e" x="23.7" y="912.4">Grass</text></g>
<g id="h0"><rect x="689" y="1091.5" width="59" height="19.5" fill="#fdf4ea" stroke="#f3c07a" stroke-width=".8"/><text class="t" x="718.5" y="1104.5">人际关系</text><use href="#m" x="685.2" y="1101"/></g>
<g id="h1"><text x="520" y="1008">一种善</text></g>
<g id="h2"><use href="#m" x="559.6" y="1013.2"/><text x="567.7" y="1015.9">不喜欢自己</text></g>
<g id="h3"><text x="414.8" y="1023.7">目的是为了不要在人际关系中受到伤害</text></g>
<g id="h4"><text x="477.2" y="1039.9">如果只有一个人，所有的烦恼都会消失</text></g>
<g id="h5"><text x="358.1" y="1055.8">客观事实</text></g>
<g id="h6"><use href="#m" x="405" y="1053.1"/><text x="412.7" y="1055.8">没有其它人比较就没有自卑</text></g>
<g id="h7"><text x="372.8" y="1071.8">非客观</text></g>
<g id="h8"><use href="#m" x="412.3" y="1077.2"/><text x="420.1" y="1079.9">价值判断来源于社会脉络</text></g>
<g id="h9"><text x="335.3" y="1087.7">常识和共同的感觉</text></g>
<g id="h10"><use href="#m" x="520.4" y="1085"/><text x="528.2" y="1087.7">主观认定</text></g>
<g id="h11"><text x="388.3" y="1103.6">赋予事物意义</text></g>
<g id="h12"><use href="#m" x="450.3" y="1100.9"/><text x="458.4" y="1103.6">自我价值判断</text></g>
<g id="h13"><text x="436" y="1119.5">与理想中的自己比较</text></g>
<g id="h14"><text x="383.4" y="1135.5">对努力与成长来说健康和正常的刺激</text></g>
<g id="h15"><use href="#m" x="520.4" y="1140.6"/><text x="528.2" y="1143.3">追求卓越</text></g>
<g id="h16"><text x="436" y="1151.4">在平地上往前踏一步</text></g>
<g id="h17"><text x="234.5" y="1167.3">如果不缺，自己一定能做到</text></g>
<g id="h18"><use href="#m" x="342.2" y="1164.6"/><text x="350.3" y="1167.3">做不到是因为缺什么</text></g>
<g id="h19"><use href="#m" x="435.6" y="1164.6"/><text x="443.3" y="1167.3">总觉得自己其实很优秀</text></g>
<g id="h20"><use href="#m" x="535.1" y="1164.6"/><text x="543.2" y="1167.3">自傲</text></g>
<g id="h21"><text x="80.4" y="1183.2">虚报自己实际能力</text></g>
<g id="h22"><use href="#m" x="157" y="1180.5"/><text x="165.2" y="1183.2">展示权威</text></g>
<g id="h23"><use href="#m" x="212.1" y="1180.5"/><text x="220.3" y="1183.2">虚伪的优越感</text></g>
<g id="h24"><use href="#m" x="282.2" y="1188.8"/><text x="290.4" y="1191.5">表现自己很优秀</text></g>
<g id="h25"><use href="#m" x="359.7" y="1188.8"/><text x="367.9" y="1191.5">没有能力靠努力和成长补足自己的自卑感</text></g>
<g id="h26"><text x="182.3" y="1199.2">试图让别人觉得你很优秀</text></g>
<g id="h27"><use href="#m" x="520.4" y="1204.7"/><text x="528.2" y="1207.4">优越情结</text></g>
<g id="h28"><text x="436" y="1215.2">活在别人的价值观里</text></g>
<g id="h29"><use href="#m" x="575" y="1212.5"/><text x="582.8" y="1215.2">自卑感</text></g>
<g id="h30"><use href="#m" x="622.8" y="1220.4"/><text x="630.1" y="1223.1">烦恼的根源</text></g>
<g id="h31"><text x="395.6" y="1231.1">回绝别人的好意</text></g>
<g id="h32"><use href="#m" x="465" y="1228.4"/><text x="473.1" y="1231.1">炫耀不幸</text></g>
<g id="h33"><text x="358.5" y="1247.2">因为A，所以达不到B</text></g>
<g id="h34"><use href="#m" x="442.5" y="1244.5"/><text x="450.7" y="1247.2">把自卑当成藉口</text></g>
<g id="h35"><text x="320.2" y="1263.1">不想牺牲现在拥有的幸福快乐</text></g>
<g id="h36"><use href="#m" x="520.4" y="1260.4"/><text x="528.2" y="1263.1">自卑情结</text></g>
<g id="h37"><use href="#m" x="435.2" y="1268.2"/><text x="442.9" y="1270.9">不想付出实际努力</text></g>
<g id="h38"><text x="403.4" y="1278.8">轻松</text></g>
<g id="h39"><text x="215" y="1294.8">必须不停的赢下去</text></g>
<g id="h40"><use href="#m" x="291.6" y="1292.1"/><text x="299.8" y="1294.8">不想成为输家</text></g>
<g id="h41"><use href="#m" x="361.8" y="1292.1"/><text x="369.9" y="1294.8">赢家</text></g>
<g id="h42"><text x="270" y="1310.9">拼了命的想要成为赢家</text></g>
<g id="h43"><text x="225.2" y="1326.9">因为无法赢对自己产生强烈的自卑感</text></g>
<g id="h44"><use href="#m" x="361.8" y="1324.2"/><text x="369.9" y="1326.9">输家</text></g>
<g id="h45"><use href="#m" x="402.5" y="1332.3"/><text x="410.3" y="1335">必定有输赢</text></g>
<g id="h46"><use href="#m" x="465" y="1332.3"/><text x="473.1" y="1335">与别人作比较</text></g>
<g id="h47"><use href="#m" x="535.1" y="1332.3"/><text x="543.2" y="1335">竞争</text></g>
<g id="h48"><text x="210.1" y="1342.9">既然无法成为赢家，就假装自己成为赢家</text></g>
<g id="h49"><text x="254.9" y="1358.9">逃避人生任务</text></g>
<g id="h50"><use href="#m" x="316.9" y="1356.2"/><text x="325.1" y="1358.9">把全世界视为敌人</text></g>
<g id="h51"><text x="318.1" y="1374.9">没有实际的伙伴关系</text></g>
<g id="h52"><text x="490.5" y="1390.5">超越个人利害关系</text></g>
<g id="h53"><text x="257.1" y="1406.8">以各种方式，各种场合进行报复</text></g>
<g id="h54"><use href="#m" x="379.5" y="1404.1"/><text x="387.2" y="1406.8">复仇</text></g>
<g id="h55"><use href="#m" x="419.9" y="1404.1"/><text x="427.3" y="1406.8">失败</text></g>
<g id="h56"><use href="#m" x="460" y="1411.9"/><text x="467.7" y="1414.6">借以胜利证明自己的能力</text></g>
<g id="h57"><use href="#m" x="567.9" y="1411.9"/><text x="575.6" y="1414.6">权力斗争</text></g>
<g id="h58"><text x="427.3" y="1422.6">胜利</text></g>
<g id="h59"><text x="430.7" y="1438.2">不要在别人挑起权力斗争时随之起舞</text></g>
<g id="h60"><text x="553.1" y="1454.2">接受现在的自己</text></g>
<g id="h61"><text x="405.7" y="1470.2">安全舒适的世界</text></g>
<g id="h62"><use href="#m" x="475.4" y="1467.5"/><text x="483.1" y="1470.2">把所有人都看作伙伴</text></g>
<g id="h63"><use href="#m" x="567.9" y="1467.5"/><text x="575.6" y="1470.2">没有竞争</text></g>
<g id="h64"><text x="527.8" y="1486.1">不喜欢自己</text></g>
<g id="h65"><use href="#m" x="582.4" y="1483.4"/><text x="590.7" y="1486.1">不幸</text></g>
<g id="h66"><use href="#m" x="623.1" y="1483.4"/><text x="630.8" y="1486.1">幸福的根源</text></g>
<g id="h67"><text x="443" y="1502">贡献感</text></g>
<g id="h68"><use href="#m" x="482.8" y="1499.3"/><text x="490.5" y="1502">感受到自己的实际价值</text></g>
<g id="h69"><use href="#m" x="582.4" y="1507.4"/><text x="590.7" y="1510.1">幸福</text></g>
<g id="h70"><text x="498.2" y="1517.9">有了自由，便是幸福</text></g>
<g id="h71"><text x="546" y="1534.2">你下不下决心</text></g>
<g id="h72"><use href="#m" x="608" y="1539.3"/><text x="615.7" y="1542">人际关系的王牌</text></g>
<g id="h73"><text x="546" y="1550.2">如何看待问题</text></g>
<g id="s0"><rect x="908" y="325.6" width="104" height="19.8" fill="#e6f5f9" stroke="#5ccbe2" stroke-width=".8"/><text class="t" x="960" y="338.8">人生是一连串的刹那</text><use href="#m" x="1016.8" y="335.5"/></g>
<g id="s1"><text x="1030.8" y="306.1">人生并不是一条线</text><use href="#m" x="1101.8" y="303.4"/></g>
<g id="s2"><text x="1115.8" y="274.3">一连串的点</text><use href="#m" x="1165" y="271.6"/></g>
<g id="s3"><text x="1179" y="274.3">一直做好当下的事情，一件又一件</text><use href="#m" x="1302.9" y="271.6"/></g>
<g id="s4"><text x="1317.3" y="274.3">没有目的的人生</text></g>
<g id="s5"><text x="1115.8" y="290">变动式</text><use href="#m" x="1149.9" y="287.3"/></g>
<g id="s6"><text x="1163.8" y="290">因为目的没有达成，所以人生不完整</text></g>
<g id="s7"><text x="1115.8" y="314.1">实现式</text><use href="#m" x="1149.9" y="311.4"/></g>
<g id="s8"><text x="1163.8" y="306.2">每个瞬间，都在实现自己的目的</text><use href="#m" x="1280.3" y="303.5"/></g>
<g id="s9"><text x="1294.2" y="306.2">不存在过去和将来</text></g>
<g id="s10"><text x="1163.8" y="322.2">活在当下</text><use href="#m" x="1204.7" y="319.5"/></g>
<g id="s11"><text x="1217.9" y="322.2">灯光聚焦在“此时、此刻”</text><use href="#m" x="1320" y="319.5"/></g>
<g id="s12"><text x="1334" y="322.2">认真而谨慎地专注在当下可以做的事</text></g>
<g id="s13"><text x="1115.8" y="337.8">无论何时何地，都是完整的人生</text></g>
<g id="s14"><text x="1030.8" y="377.8">人生的意义</text><use href="#m" x="1079.2" y="375.1"/></g>
<g id="s15"><text x="1093.9" y="369.9">人生没有意义</text><use href="#m" x="1149.5" y="367.2"/></g>
<g id="s16"><text x="1163.8" y="354">看着过去的事情无法解决问题</text></g>
<g id="s17"><text x="1163.8" y="369.9">向前看“今后可以做些什么？”</text></g>
<g id="s18"><text x="1163.8" y="385.8">过好每一个刹那</text><use href="#m" x="1227.3" y="383.1"/></g>
<g id="s19"><text x="1241.3" y="385.8">抵达某个地方</text></g>
<g id="s20"><text x="1093.9" y="401.8">你的人生意义，只有当你彻底认真地舞动在“此时、此刻”，才会显现出来</text></g>
<g id="d0"><rect x="908.2" y="522.6" width="59.3" height="19.6" fill="#fdeaf3" stroke="#f2a3c6" stroke-width=".8"/><text class="t" x="937.9" y="535.7">活在当下</text><use href="#m" x="971.4" y="532.4"/></g>
<g id="d1"><text x="985.9" y="431.3">肯定自我</text><use href="#m" x="1026.1" y="428.6"/></g>
<g id="d2"><text x="1040.3" y="431.3">暗示自己做不到的事可以做到</text><use href="#m" x="1149.4" y="428.6"/></g>
<g id="d3"><text x="1163.6" y="431.3">优越情结</text></g>
<g id="d4"><text x="985.9" y="471.2">接纳自我</text><use href="#m" x="1026.1" y="468.5"/></g>
<g id="d5"><text x="1040.3" y="447.4">接受自己</text></g>
<g id="d6"><text x="1040.3" y="471.2">积极正面的断念</text><use href="#m" x="1104.3" y="468.5"/></g>
<g id="d7"><text x="1118" y="463.1">无法改变</text></g>
<g id="d8"><text x="1118" y="479">可以改变</text><use href="#m" x="1159" y="476.3"/></g>
<g id="d9"><text x="1172.4" y="479">关注在可以改变的事情上</text><use href="#m" x="1266.2" y="476.3"/></g>
<g id="d10"><text x="1280.4" y="479">接纳自我</text></g>
<g id="d11"><text x="1040.3" y="495.1">甘于平凡的勇气</text><use href="#m" x="1104.3" y="492.4"/></g>
<g id="d12"><text x="1118" y="495.1">平凡!=无能</text></g>
<g id="d13"><text x="985.9" y="543.1">信任他人</text><use href="#m" x="1026.1" y="540.4"/></g>
<g id="d14"><text x="1040.3" y="511">信用</text><use href="#m" x="1066.3" y="508.3"/></g>
<g id="d15"><text x="1080.5" y="511">银行融资</text></g>
<g id="d16"><text x="1040.3" y="551.2">信任</text><use href="#m" x="1066.3" y="548.5"/></g>
<g id="d17"><text x="1080.5" y="527.1">相信别人的时候不附加任何条件。即使没有充分的客观事实足以证明，也选择相信完全不考虑担保的问题，无条件相信</text></g>
<g id="d18"><text x="1080.5" y="551.2">自己的功课</text><use href="#m" x="1129.1" y="548.5"/></g>
<g id="d19"><text x="1143.7" y="551.2">选择信任和不信任</text><use href="#m" x="1214.5" y="548.5"/></g>
<g id="d20"><text x="1228.7" y="543.1">选择信任</text><use href="#m" x="1270" y="540.4"/></g>
<g id="d21"><text x="1283.5" y="543.1">所有人都是你的伙伴</text></g>
<g id="d22"><text x="1228.7" y="558.9">选择不信任</text><use href="#m" x="1277.7" y="556.2"/></g>
<g id="d23"><text x="1291.9" y="558.9">所有人都是你的敌人</text></g>
<g id="d24"><text x="1080.5" y="575.1">别人的功课</text><use href="#m" x="1129.1" y="572.4"/></g>
<g id="d25"><text x="1143.7" y="575.1">背叛与否</text></g>
<g id="d26"><text x="985.9" y="614.7">贡献他人</text><use href="#m" x="1026.1" y="612"/></g>
<g id="d27"><text x="1040.3" y="590.9">为了自己</text></g>
<g id="d28"><text x="1040.3" y="606.9">对共同体创造的价值</text></g>
<g id="d29"><text x="1040.3" y="622.8">敌人</text><use href="#m" x="1066.3" y="620.1"/></g>
<g id="d30"><text x="1080.5" y="622.8">伪善</text></g>
<g id="d31"><text x="1040.3" y="638.6">朋友</text><use href="#m" x="1066.3" y="635.9"/></g>
<g id="d32"><text x="1080.5" y="638.6">不会成为伪善</text></g>
<g id="w0"><rect x="908.2" y="711.9" width="40.9" height="19.2" fill="#f0ecfa" stroke="#b8a4e6" stroke-width=".8"/><text class="t" x="928.6" y="724.8">世界</text><use href="#m" x="953.4" y="721.5"/></g>
<g id="w1"><text x="967.5" y="716.3">单纯的世界</text><use href="#m" x="1015.4" y="713.6"/></g>
<g id="w2"><text x="1028.8" y="716.3">主观创造的世界</text><use href="#m" x="1091.2" y="713.6"/></g>
<g id="w3"><text x="1105.4" y="676.4">每个人都活在自己创造的主观世界中</text><use href="#m" x="1233.7" y="673.7"/></g>
<g id="w4"><text x="1247.9" y="668.6">没有相同的主观世界</text></g>
<g id="w5"><text x="1247.9" y="684.4">你是什么想的，主观世界就是什么样的</text></g>
<g id="w6"><text x="1105.4" y="716.3">幸运或不幸</text><use href="#m" x="1154" y="713.6"/></g>
<g id="w7"><text x="1168.6" y="708.5">自己创造的</text><use href="#m" x="1216.5" y="705.8"/></g>
<g id="w8"><text x="1231" y="700.4">即使是别人觉得你很不幸，但是你觉得你很幸运，那么你就是幸运的</text></g>
<g id="w9"><text x="1231" y="716.3">就算是选择了不幸</text><use href="#m" x="1301.9" y="713.6"/></g>
<g id="w10"><text x="1316.8" y="716.3">也可以把当下的行为理解为一种“善”</text></g>
<g id="w11"><text x="1168.6" y="732.3">以为是外界因素造成的</text><use href="#m" x="1254.8" y="729.6"/></g>
<g id="w12"><text x="1268.1" y="732.3">因为我没有足够的XXX，所以我不够幸运</text></g>
<g id="w13"><text x="1105.4" y="756">善与恶</text><use href="#m" x="1138.7" y="753.3"/></g>
<g id="w14"><text x="1153.3" y="756">古希腊</text><use href="#m" x="1186.6" y="753.3"/></g>
<g id="w15"><text x="1201.1" y="748.2">善</text><use href="#m" x="1218.4" y="745.5"/></g>
<g id="w16"><text x="1232.5" y="748.2">有用</text></g>
<g id="w17"><text x="1201.1" y="764.1">恶</text><use href="#m" x="1218.4" y="761.4"/></g>
<g id="w18"><text x="1232.5" y="764.1">无用</text><use href="#m" x="1258.6" y="761.4"/></g>
<g id="w19"><text x="1273.1" y="764.1">没有人自愿采取恶</text></g>
<g id="w20"><text x="967.5" y="780.1">复杂的世界</text><use href="#m" x="1015.4" y="777.4"/></g>
<g id="w21"><text x="1028.8" y="780.1">复杂的概念并不存在</text><use href="#m" x="1106.2" y="777.4"/></g>
<g id="w22"><text x="1120.7" y="780.1">不是世界复杂</text><use href="#m" x="1175.1" y="777.4"/></g>
<g id="w23"><text x="1189.6" y="780.1">是自己把世界变复杂了</text></g>
<g id="j0"><rect x="908.2" y="932.9" width="86.1" height="19.3" fill="#e5f6f5" stroke="#62d0c6" stroke-width=".8"/><text class="t" x="951.2" y="945.8">决定论与目的论</text><use href="#m" x="998.9" y="942.5"/></g>
<g id="j1"><text x="1013.5" y="833.5">决定论</text><use href="#m" x="1045.3" y="830.8"/></g>
<g id="j2"><text x="1060.2" y="817.7">过去决定当下</text><use href="#m" x="1114.2" y="815"/></g>
<g id="j3"><text x="1128.4" y="809.5">过去无法改变</text></g>
<g id="j4"><text x="1128.4" y="825.6">只能改变当下看法</text><use href="#m" x="1198.1" y="822.9"/></g>
<g id="j5"><text x="1212.6" y="825.6">你如何解释事物？</text></g>
<g id="j6"><text x="1060.2" y="841.7">决定自我的是经验本身</text></g>
<g id="j7"><text x="1060.2" y="857.4">执着于经历什么</text></g>
<g id="j8"><text x="1013.5" y="977.2">目的论</text><use href="#m" x="1045.3" y="974.5"/></g>
<g id="j9"><text x="1060.2" y="873.8">目的决定行为</text></g>
<g id="j10"><text x="1060.2" y="889.5">当下决定人生</text></g>
<g id="j11"><text x="1060.2" y="905.6">决定自我的是赋予经验的意义</text></g>
<g id="j12"><text x="1060.2" y="921.6">以人可以改变作为前提</text><use href="#m" x="1143.7" y="918.9"/></g>
<g id="j13"><text x="1160.1" y="921.6">“人并非受制于过去的原因而行动，而是朝向自己决定好的目的而行动”</text></g>
<g id="j14"><text x="1060.2" y="937.5">关注如何运用</text><use href="#m" x="1114.2" y="934.8"/></g>
<g id="j15"><text x="1128.4" y="937.5">运用比经历更重要</text></g>
<g id="j16"><text x="1060.2" y="992.9">改变&amp;不改变</text><use href="#m" x="1111.9" y="990.2"/></g>
<g id="j17"><text x="1125.7" y="977.2">改变</text><use href="#m" x="1151.3" y="974.5"/></g>
<g id="j18"><text x="1165.9" y="961.1">不知道会遇到什么样的情况</text><use href="#m" x="1267.4" y="958.4"/></g>
<g id="j19"><text x="1280.8" y="953.2">未来变得难以预料</text></g>
<g id="j20"><text x="1280.8" y="969.2">可能会更加痛苦与不幸</text></g>
<g id="j21"><text x="1165.9" y="992.9">需要勇气</text><use href="#m" x="1206.9" y="990.2"/></g>
<g id="j22"><text x="1221" y="985.3">舍弃现有生活形态的决心</text></g>
<g id="j23"><text x="1221" y="1001">接受挑战</text></g>
<g id="j24"><text x="1125.7" y="1025">不改变</text><use href="#m" x="1159" y="1022.3"/></g>
<g id="j25"><text x="1173.2" y="1017.1">对大多数人来说，即使清楚自己的行为是有问题的，也不会改变</text><use href="#m" x="1395.3" y="1014.4"/></g>
<g id="j26"><text x="1409.1" y="1017.1">害怕未知</text></g>
<g id="j27"><text x="1173.2" y="1033.1">意味着可以用以往的经验行事</text><use href="#m" x="1281.6" y="1030.4"/></g>
<g id="j28"><text x="1295.7" y="1033.1">就像开顺手的老车</text></g>
<g id="j29"><text x="1060.2" y="1064.7">生活形态</text><use href="#m" x="1100.4" y="1062"/></g>
<g id="j30"><text x="1114.2" y="1049">对人生采取的思考或行动的倾向</text></g>
<g id="j31"><text x="1114.2" y="1072.8">自己选择</text><use href="#m" x="1155.2" y="1070.1"/></g>
<g id="j32"><text x="1169.7" y="1064.7">有意识</text><use href="#m" x="1202.3" y="1062"/></g>
<g id="j33"><text x="1217.2" y="1064.7">可以重新选择</text></g>
<g id="j34"><text x="1169.7" y="1080.8">无意识</text><use href="#m" x="1202.3" y="1078.1"/></g>
<g id="j35"><text x="1217.2" y="1080.8">改变的可能性比较小</text></g>
<g id="a0"><rect x="908.2" y="1122" width="40.9" height="19.2" fill="#fbeee8" stroke="#efb49a" stroke-width=".8"/><text class="t" x="928.6" y="1134.9">愤怒</text><use href="#m" x="953.4" y="1131.6"/></g>
<g id="a1"><text x="967.5" y="1118.7">咖啡厅</text><use href="#m" x="1000.1" y="1116"/></g>
<g id="a2"><text x="1015.4" y="1110.5">决定论</text><use href="#m" x="1047.2" y="1107.8"/></g>
<g id="a3"><text x="1061.4" y="1110.5">把愤怒作为理由去做事</text></g>
<g id="a4"><text x="1015.4" y="1126.5">目的论</text><use href="#m" x="1047.2" y="1123.8"/></g>
<g id="a5"><text x="1061.4" y="1126.5">为了达成大声吼叫的目的创造出愤怒</text></g>
<g id="a6"><text x="967.5" y="1150.4">母亲怒斥孩子却能够在接电话的一瞬间冷静下来</text><use href="#m" x="1136.8" y="1147.7"/></g>
<g id="a7"><text x="1150.6" y="1142.5">愤怒其实是可以收放自如的工具</text><use href="#m" x="1265.1" y="1139.8"/></g>
<g id="a8"><text x="1278.5" y="1142.5">达成某个目的的手段</text></g>
<g id="a9"><text x="1150.6" y="1158.5">以目的论的角度来说，她只是选择了用愤怒这样的工具达到自己的目的</text></g>
<g id="k0"><rect x="908.2" y="1231.5" width="68.1" height="19.4" fill="#eef6e4" stroke="#aad47c" stroke-width=".8"/><text class="t" x="942.2" y="1244.5">课题的分离</text><use href="#m" x="980.2" y="1241.2"/></g>
<g id="k1"><text x="995.1" y="1204.1">是谁的课题？</text><use href="#m" x="1050.6" y="1201.4"/></g>
<g id="k2"><text x="1065.2" y="1204.1">切割清楚</text><use href="#m" x="1105.4" y="1201.4"/></g>
<g id="k3"><text x="1119.9" y="1196.2">自己</text><use href="#m" x="1145.6" y="1193.5"/></g>
<g id="k4"><text x="1159.8" y="1188">表现出自己是否能够提供帮助</text><use href="#m" x="1268.2" y="1185.3"/></g>
<g id="k5"><text x="1282.3" y="1188">别人决定要不要接受</text></g>
<g id="k6"><text x="1159.8" y="1204.1">强迫改变</text><use href="#m" x="1200.4" y="1201.4"/></g>
<g id="k7"><text x="1214.5" y="1204.1">强烈反弹</text></g>
<g id="k8"><text x="1119.9" y="1220">别人</text></g>
<g id="k9"><text x="995.1" y="1243.8">人际关系的纷争</text><use href="#m" x="1058.3" y="1241.1"/></g>
<g id="k10"><text x="1072.8" y="1235.7">踩进别人的课题</text></g>
<g id="k11"><text x="1072.8" y="1251.7">自己的课题被干涉</text></g>
<g id="k12"><text x="995.1" y="1283.7">割舍别人的课题</text><use href="#m" x="1058.3" y="1281"/></g>
<g id="k13"><text x="1072.8" y="1267.6">不去介入别人的课题中</text><use href="#m" x="1158.2" y="1264.9"/></g>
<g id="k14"><text x="1172.4" y="1267.6">不管</text></g>
<g id="k15"><text x="1072.8" y="1283.7">背负别人的课题，只会让自己的人生变得沉重又辛苦</text></g>
<g id="k16"><text x="1072.8" y="1299.3">让人生卸下重担，变得单纯</text></g>
<g id="z0"><rect x="1232.9" y="1307" width="58.2" height="19.2" fill="#c8ede8" stroke="#8fd8cc" stroke-width=".8"/><text class="t" x="1262" y="1319.9">自我中心</text><use href="#m" x="1295.7" y="1316.6"/></g>
<g id="z1"><text x="1310.3" y="1311.2">认同需求的真实面</text><use href="#m" x="1381.1" y="1308.5"/></g>
<g id="z2"><text x="1395.7" y="1303.4">只关心自己</text><use href="#m" x="1443.5" y="1300.7"/></g>
<g id="z3"><text x="1457.7" y="1303.4">这个人会给我什么？</text></g>
<g id="z4"><text x="1395.7" y="1318.9">只关心别人是怎么看你的</text></g>
<g id="z5"><text x="1312.9" y="1335">“我”是共同体的一部分</text></g>
</g>
</svg>
